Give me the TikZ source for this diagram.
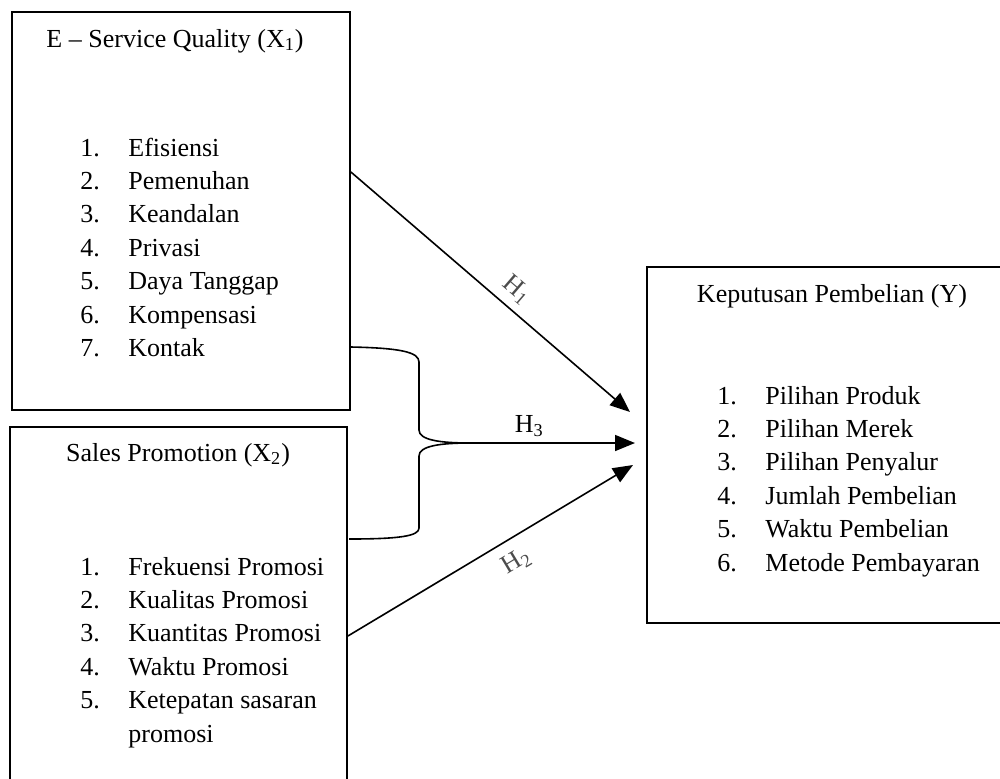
\documentclass[tikz,border=0pt]{standalone}
\usepackage{fontspec}
\setmainfont{Liberation Serif}
\usetikzlibrary{fit,arrows.meta}
\tikzset{
  box/.style={draw, line width=0.9pt, inner sep=0pt},
  arr/.style={line width=0.8pt, -{Triangle[length=10pt,width=8pt]}},
  brace/.style={line width=0.8pt},
  title/.style={anchor=base, inner sep=0pt, font=\fontsize{13}{16.7}\selectfont},
  list/.style={anchor=base west, inner sep=0pt, font=\fontsize{13}{16.7}\selectfont},
  hlab/.style={inner sep=1pt, font=\fontsize{13}{16.7}\selectfont},
}
\newcommand{\itemlist}[1]{\begin{tabular}[t]{@{}p{24pt}@{}l@{}}#1\end{tabular}}
\begin{document}
\begin{tikzpicture}[x=0.5pt,y=-0.5pt]
\useasboundingbox (0,0) rectangle (1000,778);
\clip (0,0) rectangle (1000,778);
% boxes
\node[box, fit={(12,12) (350,410)}] (x1) {};
\node[box, fit={(10,427) (347,800)}] (x2) {};
\node[box, fit={(647,267) (1020,623)}] (y) {};
% titles
\node[title] (x1t) at (175,47) {E – Service Quality (X\textsubscript{1})};
\node[title] (x2t) at (178,461) {Sales Promotion (X\textsubscript{2})};
\node[title] (yt) at (832,302) {Keputusan Pembelian (Y)};
% lists
\node[list] (x1l) at (80,156) {\itemlist{1. & Efisiensi\\ 2. & Pemenuhan\\ 3. & Keandalan\\ 4. & Privasi\\ 5. & Daya Tanggap\\ 6. & Kompensasi\\ 7. & Kontak}};
\node[list] (x2l) at (80,575) {\itemlist{1. & Frekuensi Promosi\\ 2. & Kualitas Promosi\\ 3. & Kuantitas Promosi\\ 4. & Waktu Promosi\\ 5. & Ketepatan sasaran\\ & promosi}};
\node[list] (yl) at (717,404) {\itemlist{1. & Pilihan Produk\\ 2. & Pilihan Merek\\ 3. & Pilihan Penyalur\\ 4. & Jumlah Pembelian\\ 5. & Waktu Pembelian\\ 6. & Metode Pembayaran}};
% connector end points
\coordinate (h1s) at (x1.east |- 0,172);
\coordinate (h1e) at (630,412);
\coordinate (h2s) at (x2.east |- 0,636);
\coordinate (h2e) at (633,465);
\coordinate (bt) at (x1.east |- 0,347);
\coordinate (bb) at (349,539);
\coordinate (tip) at (470,443);
\coordinate (h3e) at (635,443);
% brace
\draw[brace] (bt) .. controls (400,348) and (419,352) .. (419,362) -- (419,430)
  .. controls (419,440) and (440,443) .. (tip)
  .. controls (440,443) and (419,446) .. (419,456) -- (419,528)
  .. controls (419,536) and (400,539) .. (bb);
% arrows
\draw[arr] (h1s) -- (h1e) node[hlab, pos=0.55, sloped, above=3pt, text=black!70] {H\textsubscript{1}};
\draw[arr] (tip) -- (h3e) node[hlab, pos=0.36, above=2pt] {H\textsubscript{3}};
\draw[arr] (h2s) -- (h2e) node[hlab, pos=0.55, sloped, below=5pt, text=black!70] {H\textsubscript{2}};
\end{tikzpicture}
\end{document}
